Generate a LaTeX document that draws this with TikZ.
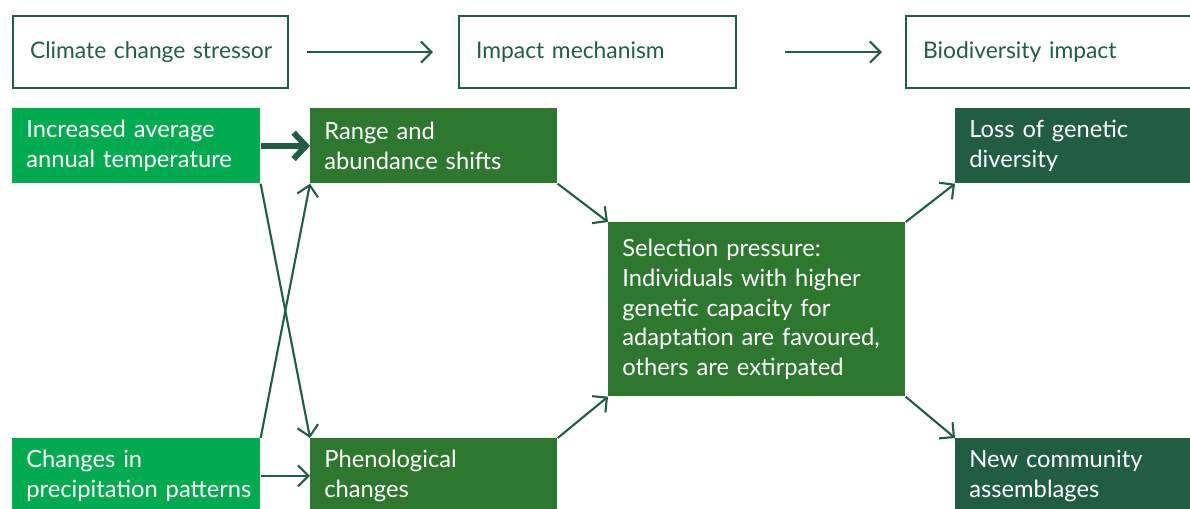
\documentclass[tikz,border=0pt]{standalone}
\usepackage{fontspec}
\setmainfont{Lato}
\usetikzlibrary{arrows.meta}
\definecolor{brightgreen}{HTML}{00AA4F}
\definecolor{midgreen}{HTML}{2E772F}
\definecolor{darkgreen}{HTML}{215D43}

\begin{document}
\begin{tikzpicture}[x=0.02cm,y=-0.02cm,
  every node/.style={font=\fontsize{13.5}{17}\selectfont,
    execute at begin node={\hyphenpenalty=10000\exhyphenpenalty=10000}},
  head/.style={draw=darkgreen,line width=1.2pt,text=darkgreen,anchor=north west,
    font=\fontsize{13}{17}\selectfont,
    minimum height=1.44cm,inner xsep=0.34cm,align=left,text width=#1},
  box/.style={anchor=north west,text=white,minimum height=1.5cm,
    inner xsep=0.28cm,align=left,text width=#1},
  link/.style={draw=darkgreen,line width=1.2pt,-{Straight Barb[length=6pt,width=12pt]}}
]
\useasboundingbox (0,0) rectangle (1190,508);
\clip (0,0) rectangle (1190,508);

% Define nodes
% Top nodes
\node[head=4.82cm] (stressor) at (12,15) {\mbox{Climate change stressor}};
\node[head=4.86cm] (mechanism) at (458,15) {Impact mechanism};
\node[head=5.6cm] (impact) at (905,15) {Biodiversity impact};

% Stressors
\node[box=4.4cm, fill=brightgreen] (temp) at (12,108) {Increased average\\annual temperature};
\node[box=4.4cm, fill=brightgreen] (precip) at (12,438) {Changes in\\\mbox{precipitation patterns}};

% Mechanisms
\node[box=4.38cm, fill=midgreen] (range) at (310,108) {Range and\\abundance shifts};
\node[box=4.38cm, fill=midgreen] (pheno) at (310,438) {Phenological\\changes};
\node[box=5.38cm, fill=midgreen, minimum height=3.48cm] (select) at (608,222)
  {Selection pressure:\\Individuals with higher\\genetic capacity for\\adaptation are favoured,\\others are extirpated};

% Impacts
\node[box=5cm, fill=darkgreen] (loss) at (955,108) {Loss of genetic\\diversity};
\node[box=5cm, fill=darkgreen] (assemb) at (955,438) {New community\\assemblages};

% Edges
\draw[link, shorten <=0.36cm, shorten >=0.5cm] (stressor) -- (mechanism);
\draw[link, shorten <=0.96cm, shorten >=0.46cm] (mechanism) -- (impact);
\draw[link, line width=3.4pt, -{Straight Barb[length=7pt,width=15pt]}] (temp) -- (range);
\draw[link] (temp.south east) -- (pheno.north west);
\draw[link] (precip.north east) -- (range.south west);
\draw[link] (precip) -- (pheno);
\draw[link] (range.south east) -- (select.north west);
\draw[link] (pheno.north east) -- (select.south west);
\draw[link] (select.north east) -- (loss.south west);
\draw[link] (select.south east) -- (assemb.north west);
\end{tikzpicture}
\end{document}
